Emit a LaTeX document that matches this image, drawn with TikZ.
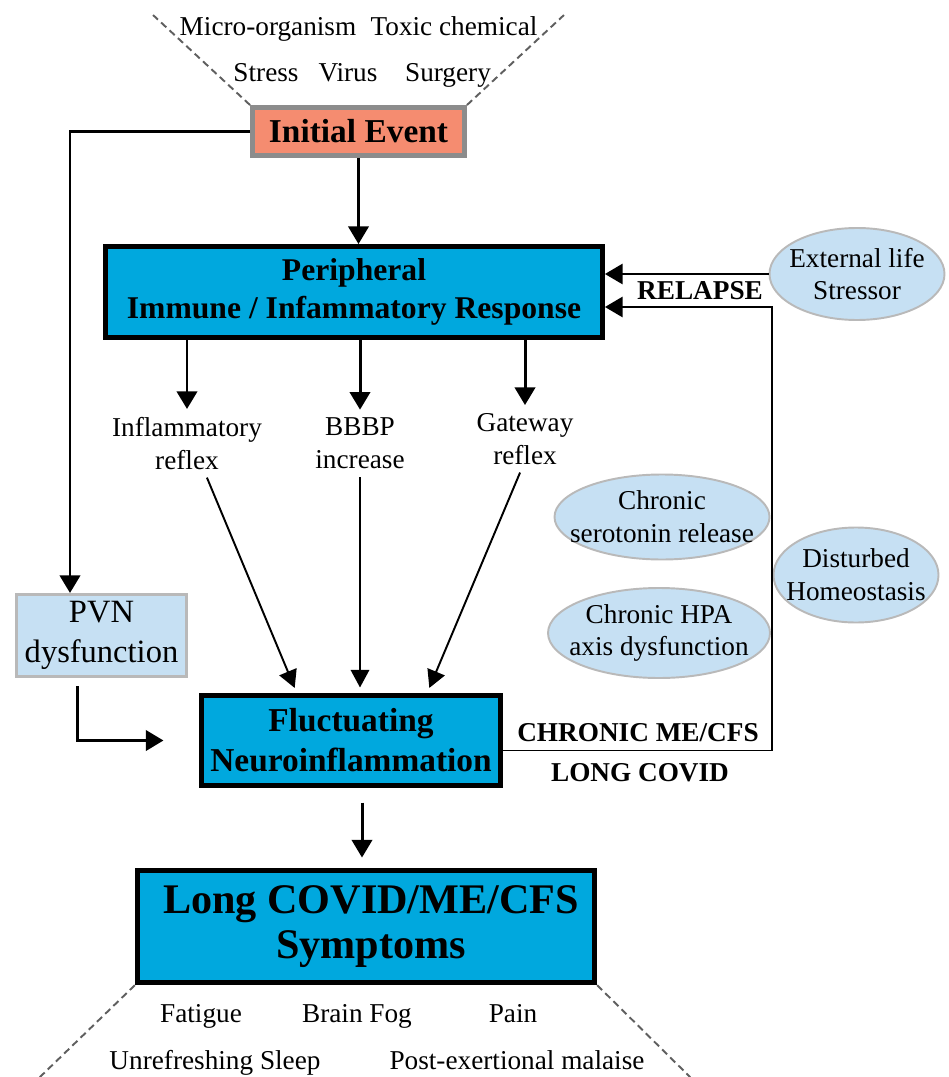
\documentclass[tikz,border=0pt]{standalone}
\usepackage{fontspec}
\setmainfont{Liberation Serif}
\usepackage{tikz}
\usetikzlibrary{arrows.meta}
\usetikzlibrary{shapes.geometric}
\usetikzlibrary{positioning}
\definecolor{mcyan}{RGB}{0, 168, 222}
\definecolor{msalmon}{RGB}{245, 140, 112}
\definecolor{mlight}{RGB}{198, 224, 243}
\definecolor{mgrey}{RGB}{140, 140, 140}
\definecolor{mdash}{RGB}{95, 95, 95}
\definecolor{mpale}{RGB}{185, 185, 185}

\tikzset{
  txt/.style={font=\fontsize{15.5}{18.7}\selectfont, align=center, inner sep=0.6mm},
  capslbl/.style={font=\fontsize{15.5}{18.7}\selectfont\bfseries, inner sep=0pt},
  bigbox/.style={draw=black, fill=mcyan, line width=2.8pt, align=center, inner sep=0pt, font=\fontsize{18}{22}\selectfont\bfseries},
  oval/.style={ellipse, draw=mpale, fill=mlight, line width=1.1pt, inner sep=0pt},
  arr/.style={line width=1.7pt, -{Triangle[length=10pt, width=11.5pt]}},
  thinarr/.style={line width=1.1pt, -{Triangle[length=10pt, width=10.5pt]}},
  dashline/.style={mdash, line width=1.1pt, dash pattern=on 4pt off 2.5pt}
}

\begin{document}
\begin{tikzpicture}[x=0.2mm, y=-0.2mm]
  \useasboundingbox (0, 0) rectangle (948, 1077);

  % trigger
  \node (init) at (358.5, 131.5) [draw=mgrey, fill=msalmon, line width=2.8pt, minimum width=42.4mm, minimum height=9.6mm, inner sep=0pt, font=\fontsize{19}{22}\selectfont\bfseries] {Initial Event};
  \foreach \n/\x/\y/\t in {micro/268/36/Micro-organism, toxic/454/36/Toxic chemical, stress/266/82/Stress, virus/348/82/Virus, surgery/448/82/Surgery} {
    \node (\n) at (\x, \y) [txt, anchor=base, inner sep=0pt] {\t};
  }
  \draw [dashline] (init.north west) -- ++(-97, -90);
  \draw [dashline] (init.north east) -- ++(97, -90);

  % main boxes
  \node (periph) at (354, 292) [bigbox, minimum width=99.4mm, minimum height=18.2mm] {Peripheral\\Immune / Infammatory Response};
  \node (fluct) at (351, 740.5) [bigbox, line width=2.3pt, minimum width=59.8mm, minimum height=18mm, font=\fontsize{19}{22.7}\selectfont\bfseries] {Fluctuating\\Neuroinflammation};
  \node (symp) at (366, 926.5) [bigbox, line width=3pt, minimum width=91.4mm, minimum height=22.4mm, font=\fontsize{24}{25.5}\selectfont\bfseries] {\hspace*{2mm}Long COVID/ME/CFS\\\hspace*{2mm}Symptoms};
  \node (pvn) at (101.5, 635.5) [draw=mpale, fill=mlight, line width=1.7pt, minimum width=34mm, minimum height=16.4mm, inner sep=0pt, align=center, font=\fontsize{18.5}{22.7}\selectfont] {PVN\\dysfunction};

  \node (infl) at (187, 443.5) [txt] {Inflammatory\\reflex};
  \node (bbbp) at (360, 443.5) [txt] {BBBP\\increase};
  \node (gate) at (525, 439) [txt] {Gateway\\reflex};

  % ovals
  \node (stressor) at (857, 274) [oval, minimum width=35mm, minimum height=18.4mm, label={[txt]center:External life\\Stressor}] {};
  \node (sero) at (662, 517) [oval, minimum width=43mm, minimum height=17mm, label={[txt]center:Chronic\\serotonin release}] {};
  \node (hpa) at (659, 633) [oval, minimum width=44.4mm, minimum height=18mm, label={[txt]center:Chronic HPA\\axis dysfunction}] {};
  \node (homeo) at (856, 575) [oval, minimum width=33mm, minimum height=19mm, label={[txt]center:Disturbed\\Homeostasis}] {};

  \node (relapse) at (700, 291) [capslbl] {RELAPSE};
  \node (chronic) at (638, 733) [capslbl] {CHRONIC ME/CFS};
  \node (longcovid) at (640, 773) [capslbl] {LONG COVID};

  % symptoms
  \foreach \n/\x/\y/\t in {fatigue/201/1022/Fatigue, fog/357/1022/Brain Fog, pain/513/1022/Pain, sleep/215/1069/Unrefreshing Sleep, pem/517/1069/Post-exertional malaise} {
    \node (\n) at (\x, \y) [txt, anchor=base, inner sep=0pt] {\t};
  }
  \draw [dashline] (symp.south west) -- ++(-95, 92);
  \draw [dashline] (symp.south east) -- ++(93, 92);

  % arrows
  \draw [arr] (init) -- (init |- periph.north);
  \coordinate (pvnin) at (70, 593);
  \draw [arr] (init.west) -| (pvnin);
  \foreach \n in {infl, bbbp, gate} {
    \draw [arr, shorten >=1mm] (periph.south -| \n) -- (\n.north);
  }
  \draw [thinarr, shorten <=1mm, shorten >=1.2mm] ([xshift=3.6mm]infl.south) -- ([xshift=-10.8mm]fluct.north);
  \draw [thinarr, shorten <=1mm, shorten >=1.2mm] (bbbp.south) -- (bbbp.south |- fluct.north);
  \draw [thinarr, shorten <=1mm, shorten >=1.2mm] ([xshift=-0.6mm]gate.south) -- ([xshift=15.2mm]fluct.north);
  \draw [arr, shorten <=1.6mm, shorten >=7.2mm] ([xshift=-4.8mm]pvn.south) |- (fluct.west);
  \draw [arr] ([xshift=2.2mm, yshift=-3mm]fluct.south) -- ++(0, 55);

  \draw [arr, line width=1.1pt] (stressor.west) -- (stressor.west -| periph.east);
  \coordinate (loopc) at (772, 307);
  \draw [arr, line width=1.1pt] ([yshift=-2mm]fluct.east) -| (loopc) -- (loopc -| periph.east);
\end{tikzpicture}
\end{document}
